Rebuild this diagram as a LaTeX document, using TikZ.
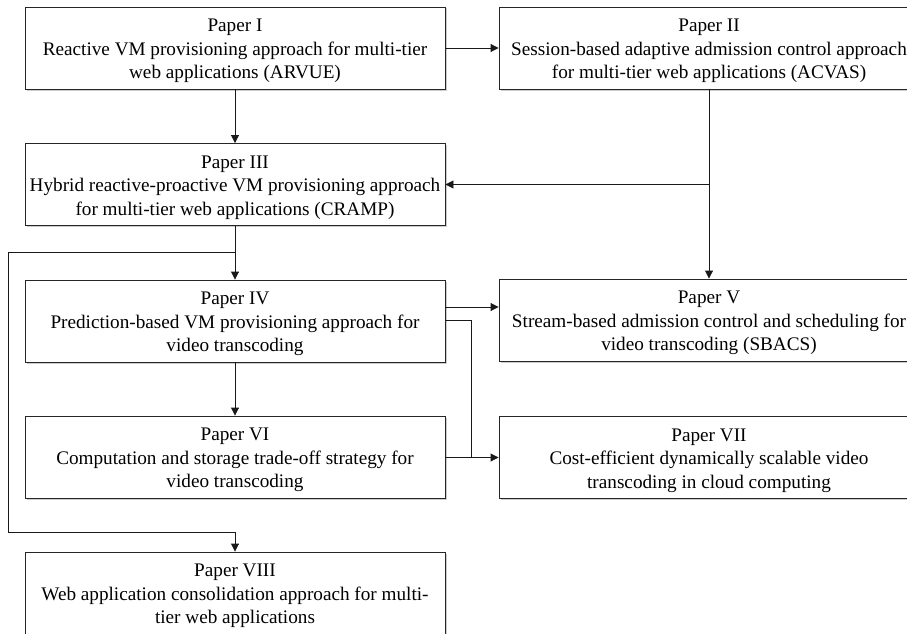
\documentclass[tikz,border=0pt]{standalone}
\usepackage{fontspec}
\setmainfont{Liberation Serif}
\usetikzlibrary{arrows.meta,shadows}
\begin{document}
\begin{tikzpicture}[x=1pt,y=-1pt,
  paper/.style={draw=black!85,line width=0.9pt,fill=white,minimum width=420pt,minimum height=82pt,
    inner sep=0pt,
    drop shadow={shadow xshift=1.5pt,shadow yshift=-1.5pt,fill=black,opacity=0.2}},
  txt/.style={align=center,inner sep=0pt,yshift=-3pt,font=\fontsize{19.2}{23.5}\selectfont},
  conn/.style={draw=black!90,line width=0.9pt},
  arr/.style={conn,-{Triangle[length=8pt,width=8pt]}}]
\clip (0,0) rectangle (907,634);
\fill[white] (0,0) rectangle (907,634);
\node[paper,label={[txt]center:{Paper I\\Reactive VM provisioning approach for multi-tier\\web applications (ARVUE)}}] (p1) at (235,48) {};
\node[paper,label={[txt]center:{Paper II\\Session-based adaptive admission control approach\\for multi-tier web applications (ACVAS)}}] (p2) at (709,48) {};
\node[paper,label={[txt]center:{Paper III\\Hybrid reactive-proactive VM provisioning approach\\for multi-tier web applications (CRAMP)}}] (p3) at (235,184.5) {};
\node[paper,label={[txt]center:{Paper IV\\Prediction-based VM provisioning approach for\\video transcoding}}] (p4) at (235,321) {};
\node[paper,label={[txt]center:{Paper V\\Stream-based admission control and scheduling for\\video transcoding (SBACS)}}] (p5) at (709,320) {};
\node[paper,label={[txt]center:{Paper VI\\Computation and storage trade-off strategy for\\video transcoding}}] (p6) at (235,457) {};
\node[paper,label={[txt]center:{Paper VII\\Cost-efficient dynamically scalable video\\transcoding in cloud computing}}] (p7) at (709,457.5) {};
\node[paper,label={[txt]center:{Paper VIII\\Web application consolidation approach for multi-\\tier web applications}}] (p8) at (235,593) {};
% coordinates
\coordinate (j1) at (709,184.5);
\coordinate (c1) at (235,252);
\coordinate (c2) at (8,252);
\coordinate (c3) at (8,532);
\coordinate (a4) at (445,307);
\coordinate (b4) at (445,320);
\coordinate (k1) at (471,320);
\coordinate (k2) at (471,457.5);
% connectors
\draw[arr] (p1) -- (p2);
\draw[arr] (p1) -- (p3);
\draw[arr] (p2) -- (p5);
\draw[arr] (j1) -- (p3.east);
\draw[arr] (p3) -- (p4);
\draw[arr] (c1) -- (c2) -- (c3) -| (p8.north);
\draw[arr] (a4) -- (p5.west |- a4);
\draw[conn] (b4) -- (k1) -- (k2);
\draw[arr] (p6.east |- k2) -- (p7.west);
\draw[arr] (p4) -- (p6);
\end{tikzpicture}
\end{document}
